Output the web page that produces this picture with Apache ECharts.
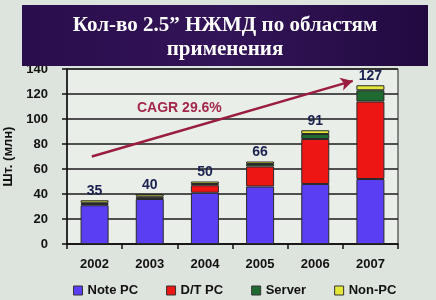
<!DOCTYPE html>
<html>
<head>
<meta charset="utf-8">
<script src="https://cdn.jsdelivr.net/npm/echarts@6/dist/echarts.min.js"></script>
<style>
html,body{margin:0;padding:0;background:#dde3dd;}
#c{width:436px;height:300px;}
</style>
</head>
<body>
<div id="c"></div>
<script>
var years = ['2002','2003','2004','2005','2006','2007'];
var notePC = [31, 36, 41, 46, 48, 52];
var dtPC   = [1, 1, 6, 16, 36, 62];
var server = [1, 1, 1, 2, 4, 9];
var nonPC  = [2, 2, 2, 2, 3, 4];
var totals = [35, 40, 50, 66, 91, 127];
var yTicks = [0, 20, 40, 60, 80, 100, 120, 140];
var cagrText = 'CAGR 29.6%';
var cagrStart = [-0.05, 70];   // [category position, value]
var cagrEnd = [4.68, 130.5];

var chart = echarts.init(document.getElementById('c'), null, {renderer: 'canvas'});
var ff = 'Liberation Sans, Arial, sans-serif';
function seg(name, data, color) {
  return {
    name: name, type: 'bar', stack: 'a', data: data, barWidth: 28,
    itemStyle: {color: color, borderColor: '#2a2a2a', borderWidth: 1}
  };
}
var series = [
  seg('Note PC', notePC, '#5a3ff2'),
  seg('D/T PC', dtPC, '#ee1515'),
  seg('Server', server, '#1f6a30'),
  seg('Non-PC', nonPC, '#e4e838')
];
series[3].label = {
  show: true, position: 'top', distance: 2,
  formatter: function (p) { return totals[p.dataIndex]; },
  color: '#1b2250', fontSize: 14, fontFamily: ff, fontWeight: 'bold'
};

chart.setOption({
  backgroundColor: '#dde3dd',
  animation: false,
  grid: {left: 67, right: 38, top: 69, bottom: 56, show: true, containLabel: false, outerBoundsMode: 'none',
         backgroundColor: '#e9eee9', borderColor: '#222', borderWidth: 1},
  xAxis: {
    type: 'category', data: years,
    axisLine: {lineStyle: {color: '#111', width: 1.5}},
    axisTick: {show: true, length: 5, lineStyle: {color: '#111', width: 1.5}},
    axisLabel: {color: '#111', fontSize: 13, margin: 14, fontFamily: ff, fontWeight: 'bold'}
  },
  yAxis: {
    type: 'value', min: yTicks[0], max: yTicks[yTicks.length - 1], interval: 20,
    name: 'Шт. (млн)', nameLocation: 'middle', nameRotate: 90, nameGap: 47,
    nameTextStyle: {color: '#111', fontSize: 13, fontFamily: ff, fontWeight: 'bold'},
    axisLine: {show: true, lineStyle: {color: '#111', width: 1.5}},
    axisTick: {show: true, length: 5, lineStyle: {color: '#111', width: 1.5}},
    axisLabel: {color: '#111', fontSize: 13, margin: 19, fontFamily: ff, fontWeight: 'bold'},
    splitLine: {lineStyle: {color: '#1a1a1a', width: 1.5}}
  },
  legend: {
    data: ['Note PC', 'D/T PC', 'Server', 'Non-PC'],
    left: 68, top: 279, itemWidth: 9, itemHeight: 9, itemGap: 28,
    icon: 'rect',
    itemStyle: {borderColor: '#333', borderWidth: 1},
    textStyle: {color: '#111', fontSize: 13, fontFamily: ff, fontWeight: 'bold'}
  },
  series: series,
  graphic: [
    {type: 'rect', z: 100, shape: {x: 22, y: 5, width: 406, height: 61},
     style: {fill: new echarts.graphic.LinearGradient(0, 0, 1, 0, [
       {offset: 0, color: '#2a0d4c'}, {offset: 0.5, color: '#321458'}, {offset: 1, color: '#220a40'}])}},
    {type: 'text', z: 101, x: 225, y: 14,
     style: {text: 'Кол-во 2.5” НЖМД по областям\nприменения', fill: '#ffffff',
             font: 'bold 21px "Liberation Serif", "DejaVu Serif", serif', textAlign: 'center', lineHeight: 24}},
    {type: 'text', z: 50, left: 137, top: 101,
     style: {text: cagrText, fill: '#a3284a', font: 'bold 14px "Liberation Sans", Arial, sans-serif'}}
  ]
});

// CAGR arrow: positions derived from the chart's own scales
function toPx(pt) {
  var i = Math.floor(pt[0]);
  var a = chart.convertToPixel({gridIndex: 0}, [i, pt[1]]);
  var b = chart.convertToPixel({gridIndex: 0}, [i + 1, pt[1]]);
  return [a[0] + (pt[0] - i) * (b[0] - a[0]), a[1]];
}
var p0 = toPx(cagrStart), p1 = toPx(cagrEnd);
chart.setOption({
  series: [{
    markLine: {
      silent: true, symbol: ['none', 'arrow'], symbolSize: [10, 12],
      label: {show: false},
      lineStyle: {color: '#9a1c3e', width: 2.5, type: 'solid'},
      data: [[{x: p0[0], y: p0[1]}, {x: p1[0], y: p1[1]}]]
    }
  }]
});
</script>
</body>
</html>
